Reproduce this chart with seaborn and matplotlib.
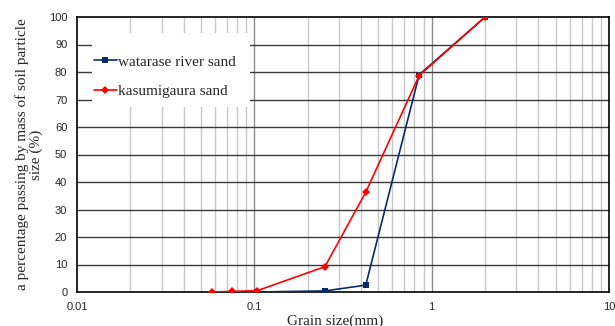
import matplotlib
matplotlib.use("Agg")
import matplotlib.pyplot as plt
import seaborn as sns
import numpy as np
import pandas as pd
from matplotlib.ticker import LogLocator, FixedLocator, NullFormatter
from matplotlib.patches import Rectangle

# Data
watarase_size = [0.104, 0.25, 0.425, 0.85, 2.0]
watarase_pass = [0.0, 0.4, 2.5, 79.0, 100.0]
kasumi_size = [0.058, 0.075, 0.104, 0.25, 0.425, 0.85, 2.0]
kasumi_pass = [0.0, 0.2, 0.5, 9.2, 36.3, 78.7, 100.0]
x_ticks = [0.01, 0.1, 1, 10]
x_tick_labels = ["0.01", "0.1", "1", "10"]
y_ticks = [0, 10, 20, 30, 40, 50, 60, 70, 80, 90, 100]

sns.set_theme(style="white")
plt.rcParams['font.family'] = ['Liberation Serif', 'DejaVu Serif']

fig = plt.figure(figsize=(6.15, 3.26), dpi=100)
ax = fig.add_axes([77/615, 1-292/326, (609-77)/615, (292-17)/326])

df_w = pd.DataFrame({"size": watarase_size, "pass": watarase_pass})
df_k = pd.DataFrame({"size": kasumi_size, "pass": kasumi_pass})

sns.lineplot(data=df_w, x="size", y="pass", ax=ax, color="#0b2a6e", marker="s",
             markersize=5, markeredgewidth=0, linewidth=1.2, label="watarase river sand",
             zorder=3)
sns.lineplot(data=df_k, x="size", y="pass", ax=ax, color="#ff0000", marker="D",
             markersize=4.5, markeredgewidth=0, linewidth=1.2, label="kasumigaura sand",
             zorder=4)

ax.set_xscale("log")
ax.set_xlim(0.01, 10)
ax.set_ylim(0, 100)
ax.xaxis.set_major_locator(FixedLocator(x_ticks))
ax.set_xticklabels(x_tick_labels)
ax.xaxis.set_minor_locator(LogLocator(base=10, subs=np.arange(2, 10)))
ax.xaxis.set_minor_formatter(NullFormatter())
ax.set_yticks(y_ticks)

ax.grid(False)
for v in [0.1, 1]:
    ax.axvline(v, color="#8c8c8c", lw=1.0, zorder=1)
for d in [0.01, 0.1, 1]:
    for s in range(2, 10):
        ax.axvline(d*s, color="#c8c8c8", lw=1.0, zorder=1)
for yv in y_ticks[1:-1]:
    ax.axhline(yv, color="#3a3a3a", lw=1.0, zorder=1)

for sp in ax.spines.values():
    sp.set_color("black")
    sp.set_linewidth(1.2)
    sp.set_visible(True)

ax.tick_params(axis="x", which="both", length=0, pad=7)
ax.tick_params(axis="y", which="both", length=0, pad=7)
for lab in ax.get_xticklabels() + ax.get_yticklabels():
    lab.set_fontfamily("Liberation Sans")
    lab.set_fontsize(8)

ax.set_xlabel("Grain size(mm)", fontsize=11, labelpad=2)
ax.xaxis.set_label_coords((335-77)/532, -0.082)
ax.set_ylabel("a percentage passing by mass of soil particle\nsize (%)", fontsize=11,
              labelpad=4, linespacing=1.1)

# white background box behind the legend
ax.add_patch(Rectangle((0.028, 0.673), 0.297, 0.269, transform=ax.transAxes,
                       facecolor="white", edgecolor="none", zorder=2))

leg = ax.legend(loc="upper left", bbox_to_anchor=(0.032, 0.862), frameon=False,
                fontsize=11, handlelength=1.5, handletextpad=0.1, labelspacing=1.05,
                borderpad=0, borderaxespad=0)
leg.set_zorder(5)

fig.savefig("out.png", dpi=100)
